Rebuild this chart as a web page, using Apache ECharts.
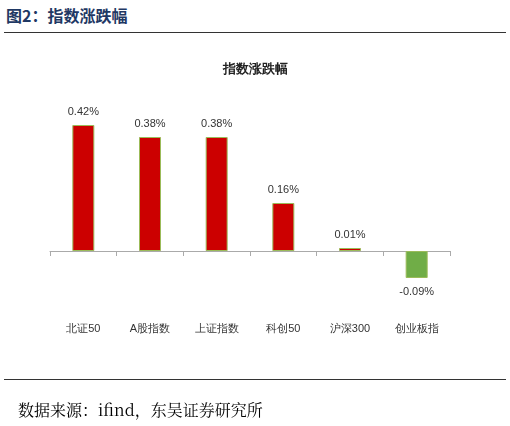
<!DOCTYPE html>
<html><head><meta charset="utf-8">
<script src="https://cdn.jsdelivr.net/npm/echarts@6/dist/echarts.min.js"></script>
<style>
body{margin:0;width:510px;height:426px;background:#fff;position:relative;font-family:"Noto Sans CJK SC",sans-serif;overflow:hidden}
#hdr{position:absolute;left:6px;top:3px;font-size:16px;font-weight:bold;color:#1f3864;font-family:"Noto Sans CJK SC"}
#l1{position:absolute;left:4px;right:4px;top:32px;border-top:1.5px solid #333}
#l2{position:absolute;left:4px;right:4px;top:379px;border-top:1.5px solid #333}
#src{position:absolute;left:18px;top:398px;font-size:16px;color:#000;font-family:"Noto Serif CJK SC","Noto Sans CJK SC",serif}
#c{position:absolute;left:0;top:0;width:510px;height:426px}
</style></head><body>
<div id="hdr">图2：指数涨跌幅</div><div id="l1"></div>
<div id="c"></div>
<div id="l2"></div><div id="src">数据来源：ifind，东吴证券研究所</div>
<script>
const categories=['北证50','A股指数','上证指数','科创50','沪深300','创业板指'];
const values=[0.42,0.38,0.38,0.16,0.01,-0.09];
const chart=echarts.init(document.getElementById('c'));
chart.setOption({
 title:{text:'指数涨跌幅',left:'center',top:58,textStyle:{fontSize:13,fontWeight:'bold',color:'#222'}},
 grid:{left:50,right:60,top:116,bottom:145},
 xAxis:[{type:'category',data:categories,axisLine:{show:false,onZero:false},axisTick:{show:false},
   axisLabel:{margin:42,fontSize:11,color:'#333'}},
  {type:'category',data:categories,position:'bottom',axisLine:{onZero:true,lineStyle:{color:'#aaa'}},
   axisTick:{show:true,lineStyle:{color:'#aaa'}},axisLabel:{show:false}}],
 yAxis:{type:'value',min:-0.1,max:0.45,show:false,splitLine:{show:false}},
 series:[{type:'bar',xAxisIndex:0,barWidth:22,
   data:values.map(v=>({value:v,itemStyle:{color:v<0?'#70ad47':'#cc0000',borderColor:'#9bbb59',borderWidth:1}})),
   label:{show:true,position:'top',distance:8,fontSize:11,color:'#333',formatter:p=>p.value.toFixed(2)+'%'},
   labelLayout:null}]
});
chart.setOption({series:[{label:{position:'outside'}}]});
</script></body></html>
